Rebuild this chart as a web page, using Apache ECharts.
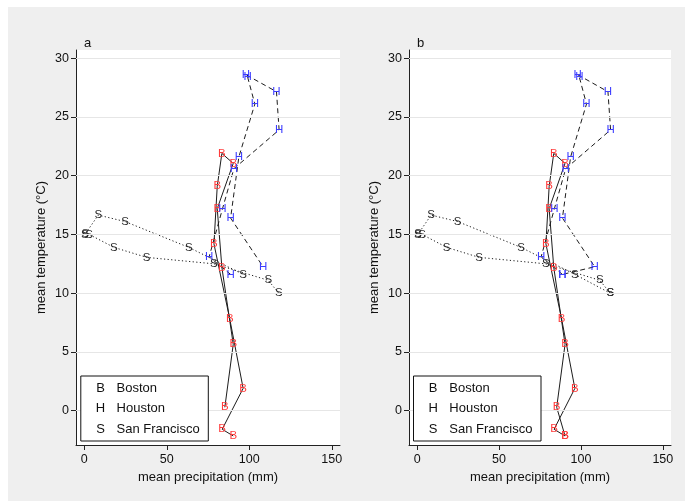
<!DOCTYPE html>
<html>
<head>
<meta charset="utf-8">
<script src="https://cdn.jsdelivr.net/npm/echarts@6/dist/echarts.min.js"></script>
<style>
  html, body { margin: 0; padding: 0; background: #ffffff; }
  #chart { width: 685px; height: 501px; }
</style>
</head>
<body>
<div id="chart"></div>
<script>
// Monthly climate normals, January through December
const cityNames = ['Boston', 'Houston', 'San Francisco'];
const cityLetters = ['B', 'H', 'S'];

const bostonPrecip = [90.3, 83.6, 96.3, 88.2, 78.6, 80.6, 83.4, 90.3, 80.6, 83.4, 90.3, 85.2];
const bostonTemp   = [-2.15, -1.58, 1.9, 7.8, 14.2, 19.1, 21.9, 21.05, 17.2, 12.2, 5.65, 0.29];

const houstonPrecip = [88.7, 75.7, 83.8, 90.7, 118.1, 116.5, 98.0, 99.0, 103.4, 93.7, 88.7, 108.4];
const houstonTemp   = [11.6, 13.1, 17.2, 20.6, 23.9, 27.15, 28.6, 28.4, 26.1, 21.6, 16.4, 12.25];

const sfPrecip = [117.9, 111.5, 78.6, 37.8, 18.0, 3.0, 0.4, 0.6, 8.5, 24.7, 63.4, 96.3];
const sfTemp   = [10.0, 11.1, 12.5, 13.05, 13.9, 15.0, 15.0, 15.05, 16.65, 16.1, 13.9, 11.6];

const yTicks = [0, 5, 10, 15, 20, 25, 30];
const xTicks = [0, 50, 100, 150];
const panelTitles = ['a', 'b'];

const FONT = '"Liberation Sans", Arial, Helvetica, sans-serif';
const letterColors = ['#ff3b3b', '#3d3dff', '#2a2a2a'];
const dashTypes = ['solid', [5, 3.5], [1.2, 2.4]];
const precipByCity = [bostonPrecip, houstonPrecip, sfPrecip];
const tempByCity = [bostonTemp, houstonTemp, sfTemp];

// panel geometry
const grids = [
  { left: 76, top: 50, width: 264, height: 395 },
  { left: 409, top: 50, width: 262, height: 395 }
];

function citySeries(ci, panel) {
  const pts = precipByCity[ci].map((p, i) => [p, tempByCity[ci][i]]);
  if (panel === 1) pts.push(pts[0]); // panel b closes the yearly loop
  return {
    type: 'line',
    name: cityNames[ci],
    xAxisIndex: panel,
    yAxisIndex: panel,
    data: pts,
    symbol: 'circle',
    symbolSize: 1,
    showSymbol: true,
    showAllSymbol: true,
    itemStyle: { color: 'rgba(0,0,0,0)', borderWidth: 0 },
    lineStyle: { color: '#1c1c1c', width: 1, type: dashTypes[ci] },
    label: {
      show: true,
      position: 'inside',
      formatter: cityLetters[ci],
      color: letterColors[ci],
      fontSize: 11.5,
      fontFamily: FONT
    },
    z: 3,
    silent: true,
    animation: false
  };
}

function gridLineSeries(panel) {
  return {
    type: 'line',
    xAxisIndex: panel,
    yAxisIndex: panel,
    data: [],
    silent: true,
    z: 1,
    markLine: {
      silent: true,
      symbol: 'none',
      animation: false,
      label: { show: false },
      lineStyle: { color: '#e6e6e6', width: 1, type: 'solid' },
      data: yTicks.map(v => ({ yAxis: v }))
    }
  };
}

const series = [];
[0, 1].forEach(p => {
  series.push(gridLineSeries(p));
  [0, 1, 2].forEach(ci => series.push(citySeries(ci, p)));
});

function xAxis(panel) {
  return {
    type: 'value', gridIndex: panel, min: -5, max: 155,
    name: 'mean precipitation (mm)', nameLocation: 'middle', nameGap: 14,
    nameTextStyle: { fontSize: 13, color: '#111', fontFamily: FONT },
    axisLine: { show: true, onZero: false, lineStyle: { color: '#222', width: 1 } },
    axisTick: { show: true, length: 5, customValues: xTicks, lineStyle: { color: '#222' } },
    axisLabel: { customValues: xTicks, fontSize: 12.5, color: '#111', margin: 8, fontFamily: FONT },
    splitLine: { show: false }
  };
}
function yAxis(panel) {
  return {
    type: 'value', gridIndex: panel, min: -2.92, max: 30.7,
    name: 'mean temperature (°C)', nameLocation: 'middle', nameGap: 28, nameRotate: 90,
    nameTextStyle: { fontSize: 13, color: '#111', fontFamily: FONT },
    axisLine: { show: true, onZero: false, lineStyle: { color: '#222', width: 1 } },
    axisTick: { show: true, length: 5, customValues: yTicks, lineStyle: { color: '#222' } },
    axisLabel: { customValues: yTicks, fontSize: 12.5, color: '#111', margin: 7, fontFamily: FONT },
    splitLine: { show: false }
  };
}

// legend boxes drawn as graphic groups
function legendBox(x0) {
  const rows = cityNames.map((n, i) => [
    { type: 'text', x: x0 + 19.7, y: 388 + i * 20.5,
      style: { text: cityLetters[i], font: '13px ' + FONT, fill: '#111', align: 'center', verticalAlign: 'middle' } },
    { type: 'text', x: x0 + 35.8, y: 388 + i * 20.5,
      style: { text: n, font: '13px ' + FONT, fill: '#111', align: 'left', verticalAlign: 'middle' } }
  ]).flat();
  return [
    { type: 'rect', shape: { x: x0, y: 376, width: 127.5, height: 65 },
      style: { fill: '#ffffff', stroke: '#111', lineWidth: 1 }, z: 10 },
    ...rows.map(r => Object.assign(r, { z: 11 }))
  ];
}

const option = {
  backgroundColor: '#ffffff',
  animation: false,
  title: panelTitles.map((t, i) => ({
    text: t, left: grids[i].left + 3, top: 32,
    textStyle: { fontSize: 13, fontWeight: 'normal', color: '#111', fontFamily: FONT }
  })),
  grid: grids.map(g => Object.assign({ show: true, backgroundColor: '#ffffff', borderWidth: 0 }, g)),
  xAxis: [xAxis(0), xAxis(1)],
  yAxis: [yAxis(0), yAxis(1)],
  graphic: [
    { type: 'rect', shape: { x: 8, y: 7, width: 677, height: 494 }, style: { fill: '#efefef' }, z: -10, silent: true },
    ...legendBox(80.8),
    ...legendBox(413.5)
  ],
  series: series
};

const chart = echarts.init(document.getElementById('chart'), null, { renderer: 'canvas' });
chart.setOption(option);
</script>
</body>
</html>
